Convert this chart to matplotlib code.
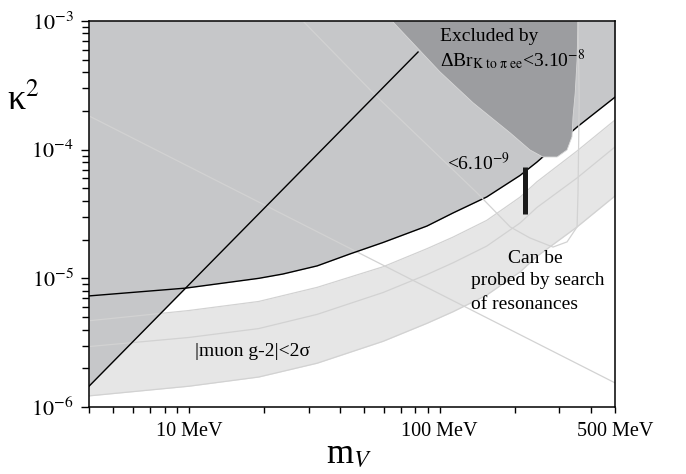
import matplotlib
matplotlib.use("Agg")
import matplotlib.pyplot as plt
from matplotlib.ticker import NullFormatter

plt.rcParams["font.family"] = ["Liberation Serif", "DejaVu Serif"]
plt.rcParams["mathtext.fontset"] = "stix"

# bound "<6.10^-9" (black curve)
curve_m = [4.0, 9.75, 19, 23.7, 32.5, 44, 59.5, 89, 113, 154, 209, 244, 353, 500]
curve_k = [7.3e-6, 8.4e-6, 1.0e-5, 1.08e-5, 1.25e-5, 1.55e-5, 1.9e-5,
           2.55e-5, 3.22e-5, 4.29e-5, 6.3e-5, 8.0e-5, 1.5e-4, 2.56e-4]

# steep straight bound (black diagonal)
diag_m = [4.0, 82]
diag_k = [1.45e-6, 5.74e-4]

# |muon g-2| < 2 sigma band
band_m = [4, 10, 19, 32.5, 59.5, 89, 113, 154, 209, 244, 353, 500]
band_hi = [4.68e-6, 5.62e-6, 6.61e-6, 8.51e-6, 1.23e-5, 1.70e-5, 2.09e-5,
           2.82e-5, 4.27e-5, 5.62e-5, 9.77e-5, 1.70e-4]
band_mid = [2.95e-6, 3.47e-6, 4.07e-6, 5.25e-6, 7.76e-6, 1.07e-5, 1.32e-5,
            1.78e-5, 2.69e-5, 3.55e-5, 6.03e-5, 1.05e-4]
band_lo = [1.22e-6, 1.45e-6, 1.71e-6, 2.19e-6, 3.24e-6, 4.47e-6, 5.5e-6,
           7.41e-6, 1.12e-5, 1.48e-5, 2.51e-5, 4.37e-5]

# light straight line
line1_m = [4.0, 500]
line1_k = [1.83e-4, 1.54e-6]

# light U-shaped contour
line2_m = [28.5, 55.3, 141, 191, 229, 283, 322, 353, 356, 360, 356]
line2_k = [1e-3, 2.66e-4, 4.61e-5, 2.51e-5, 2.06e-5, 1.75e-5, 1.92e-5,
           2.51e-5, 4.61e-5, 2.43e-4, 1e-3]

# excluded by Delta Br(K -> pi ee) < 3e-8
dark_m = [64.6, 100.3, 136, 191, 229, 258, 294, 322, 337, 340, 347, 353, 356]
dark_k = [1e-3, 4.02e-4, 2.31e-4, 1.35e-4, 9.95e-5, 8.77e-5, 8.77e-5,
          9.95e-5, 1.26e-4, 1.79e-4, 2.76e-4, 4.98e-4, 1e-3]

# resonance search bar
bar_m = [219, 219]
bar_k = [3.16e-5, 7.34e-5]

xmin, xmax = 4.0, 500
ymin, ymax = 1e-6, 1e-3

GRAY = "#c6c7c9"
DARK = "#9c9da0"
BAND = "#e6e6e6"
LIGHT = "#d2d2d2"

fig = plt.figure(figsize=(6.86, 4.74), dpi=100)
ax = fig.add_axes([89 / 686, 1 - 407 / 474, 526 / 686, 386 / 474])
ax.set_xscale("log")
ax.set_yscale("log")

ax.fill_between(band_m, band_lo, band_hi, color=BAND, lw=0, zorder=1)
ax.fill_between(diag_m, diag_k, ymax, color=GRAY, lw=0, zorder=2)
ax.fill_between(curve_m, curve_k, ymax, color=GRAY, lw=0, zorder=2)
ax.plot(curve_m, curve_k, color="black", lw=1.0, zorder=5)
ax.fill(dark_m, dark_k, facecolor=DARK, edgecolor="#d8d8d8", lw=0.6, zorder=6)

for ys in (band_hi, band_mid, band_lo):
    ax.plot(band_m, ys, color=LIGHT, lw=0.9, zorder=4)
ax.plot(line1_m, line1_k, color=LIGHT, lw=0.9, zorder=4)
ax.plot(line2_m, line2_k, color=LIGHT, lw=0.9, zorder=7)
ax.plot(diag_m, diag_k, color="black", lw=1.0, zorder=8)
ax.plot(bar_m, bar_k, color="#1a1a1a", lw=3.6, solid_capstyle="butt", zorder=8)

ax.set_xlim(xmin, xmax)
ax.set_ylim(ymin, ymax)

ax.set_xticks([10, 100, 500])
ax.set_xticklabels(["10 MeV", "100 MeV", "500 MeV"])
ax.xaxis.set_minor_formatter(NullFormatter())
ax.set_yticks([1e-6, 1e-5, 1e-4, 1e-3])
ax.set_yticklabels([r"$10^{-6}$", r"$10^{-5}$", r"$10^{-4}$", r"$10^{-3}$"])
ax.yaxis.set_minor_formatter(NullFormatter())
ax.tick_params(which="both", direction="out", top=False, right=False, width=1.0)
ax.tick_params(axis="x", which="both", length=4.5, pad=6, labelsize=14.5)
ax.tick_params(axis="y", which="major", length=6, pad=5, labelsize=16)
ax.tick_params(axis="y", which="minor", length=5)
for sp in ax.spines.values():
    sp.set_linewidth(1.1)
    sp.set_zorder(10)

ax.text(-0.124, 0.769, "κ$^2$", transform=ax.transAxes, fontsize=26,
        ha="center", va="baseline")
ax.text(0.495, -0.145, "m$_V$", transform=ax.transAxes, fontsize=25,
        ha="center", va="baseline")

ax.text(100, 7.6e-4, "Excluded by", fontsize=14, ha="left", va="center", zorder=9)
ax.text(100, 4.47e-4, r"ΔBr$_{\mathrm{K\ to\ \pi\ ee}}$<3.10$^{-8}$",
        fontsize=14, ha="left", va="baseline", zorder=9)
ax.text(107, 6.95e-5, "<6.10$^{-9}$", fontsize=14, ha="left", va="baseline", zorder=9)
ax.text(240, 1.32e-5, "Can be", fontsize=14, ha="center", va="baseline", zorder=9)
ax.text(133, 8.9e-6, "probed by search", fontsize=14, ha="left", va="baseline", zorder=9)
ax.text(133, 5.78e-6, "of resonances", fontsize=14, ha="left", va="baseline", zorder=9)
ax.text(10.6, 2.49e-6, r"|muon g-2|<2σ", fontsize=14, ha="left", va="baseline", zorder=9)

fig.savefig("out.png", dpi=100)
